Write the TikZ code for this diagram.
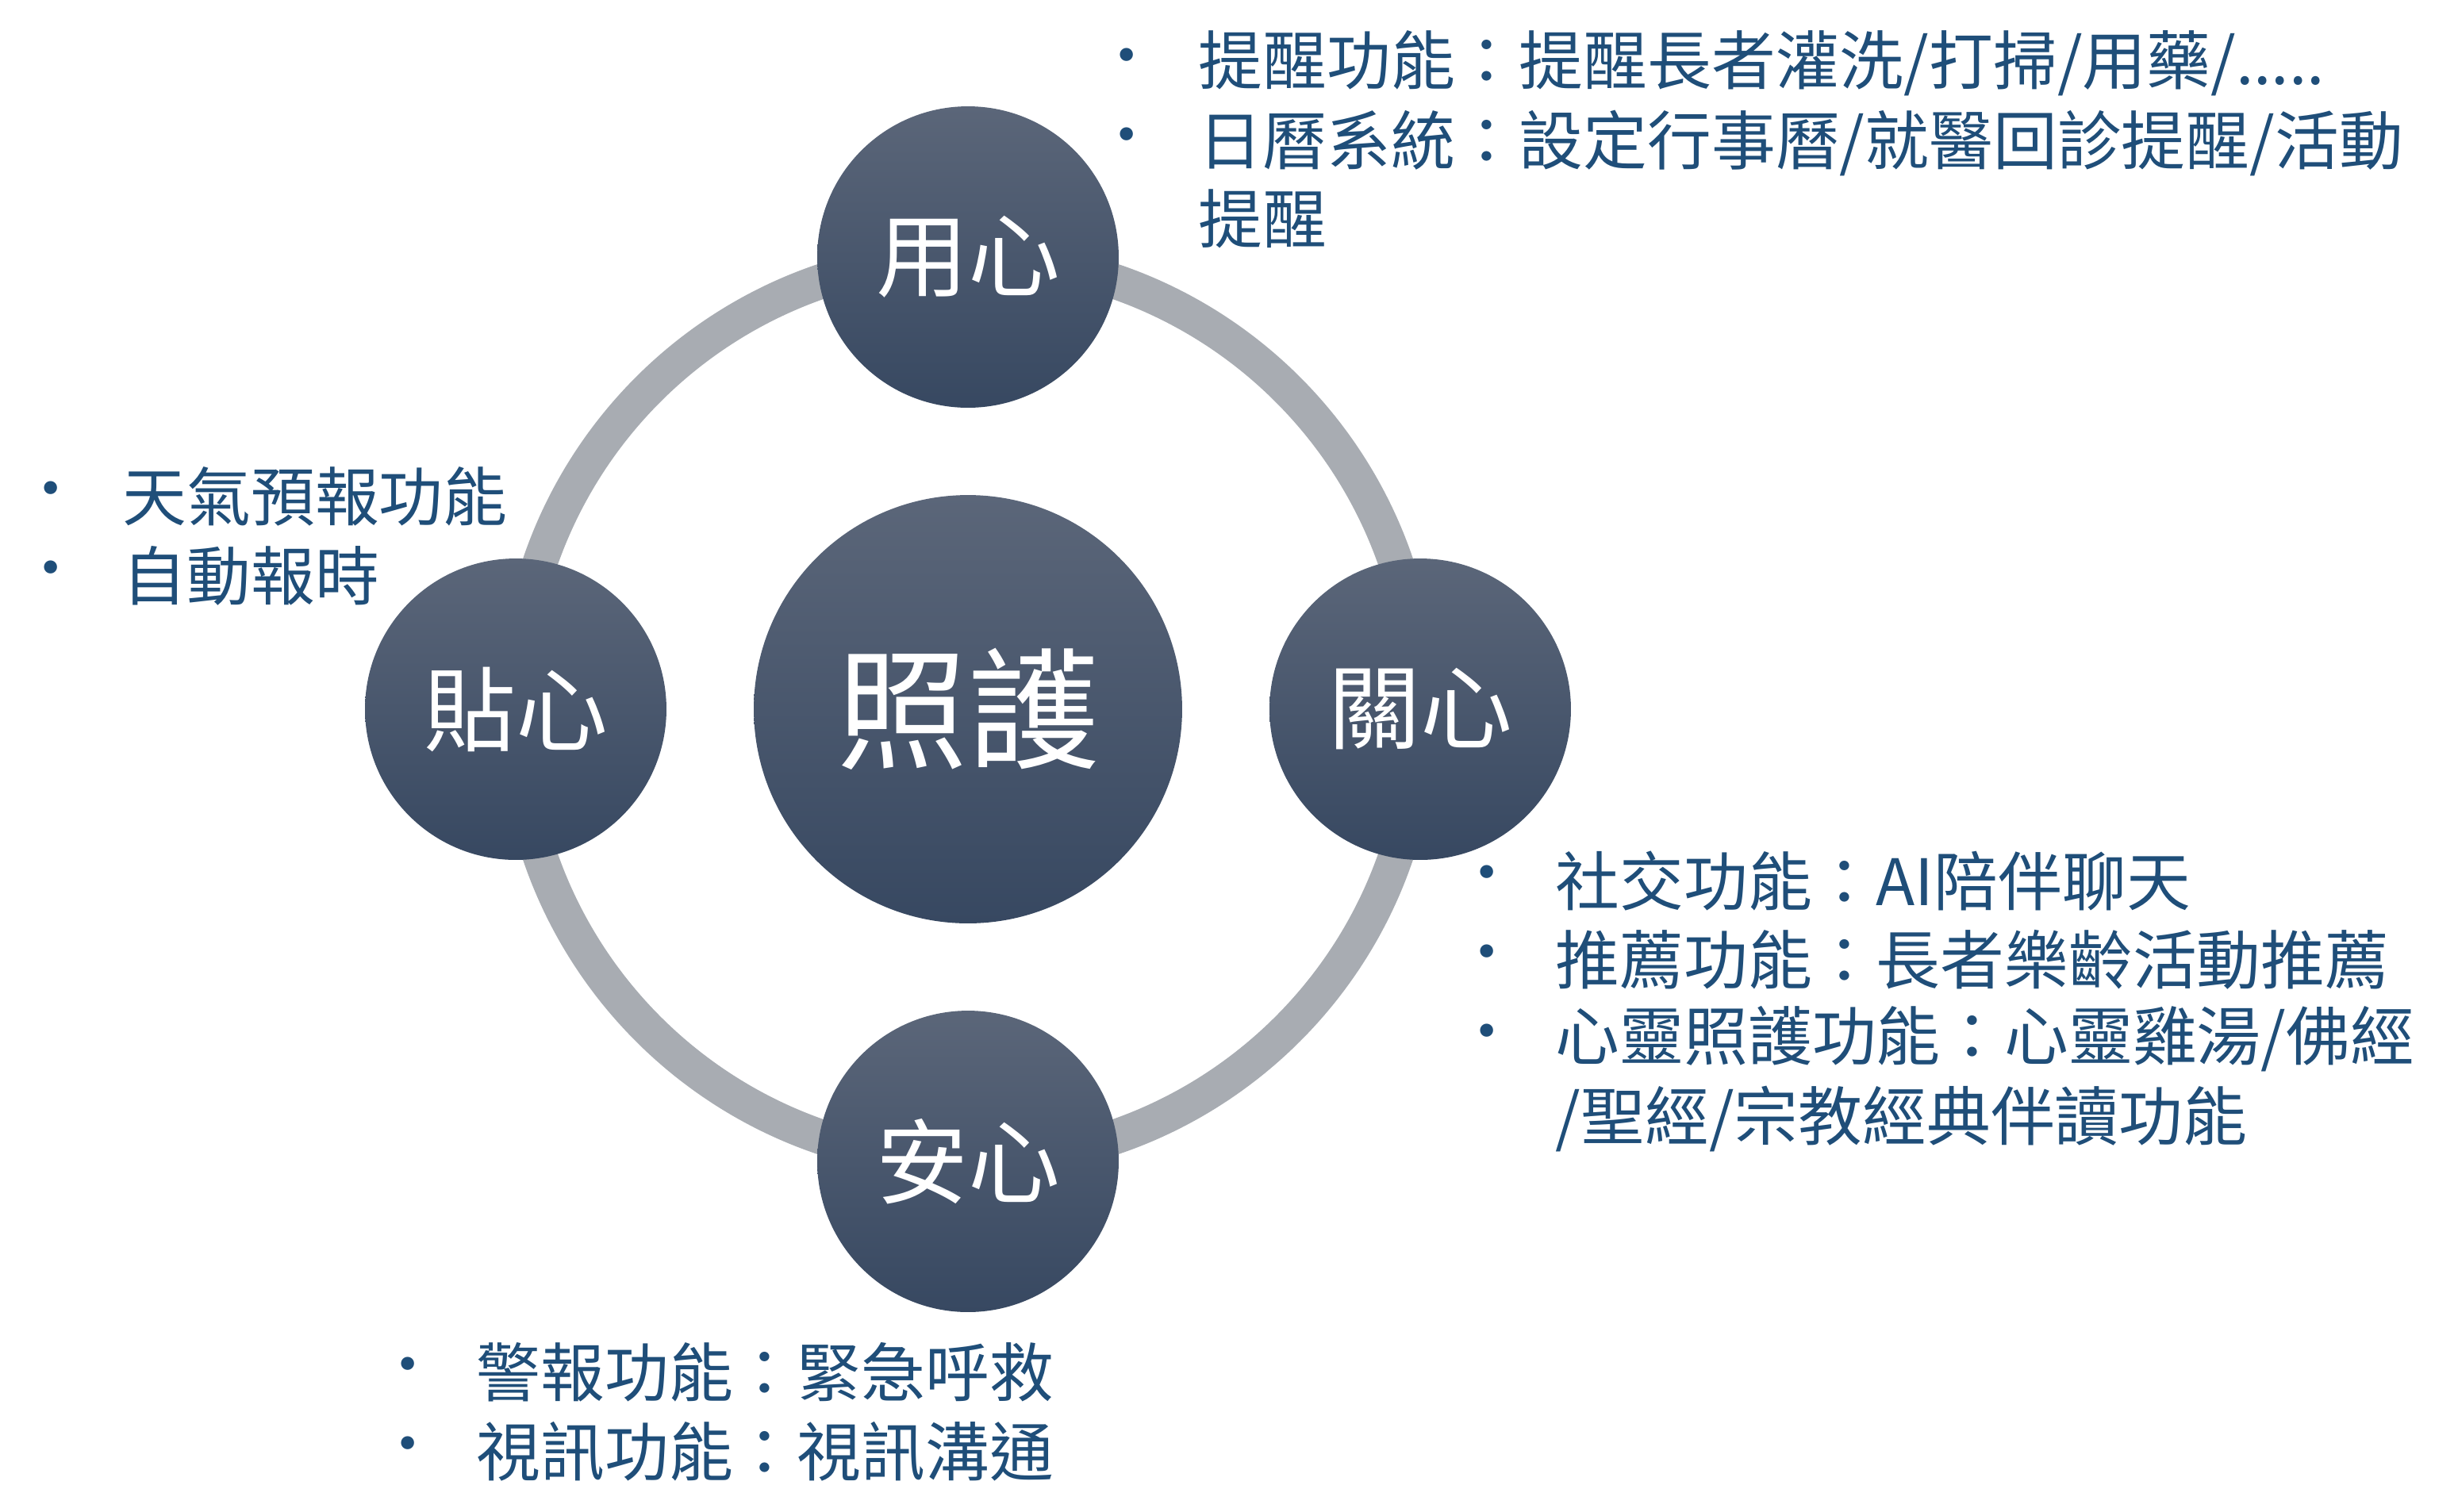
\documentclass[tikz,border=0pt]{standalone}
\usepackage{fontspec}
\setmainfont{Noto Sans CJK TC}
\definecolor{txt}{HTML}{1F4E79}
\definecolor{ctop}{HTML}{5B6679}
\definecolor{cbot}{HTML}{374861}
\definecolor{ring}{HTML}{A8ACB2}
\begin{document}
\begin{tikzpicture}[x=0.02cm,y=-0.02cm,
  big/.style={circle,minimum size=5.4cm,inner sep=0,top color=ctop,bottom color=cbot,text=white,font=\fontsize{47}{50}\selectfont},
  small/.style={circle,minimum size=3.8cm,inner sep=0,top color=ctop,bottom color=cbot,text=white,font=\fontsize{33}{36}\selectfont},
  bul/.style={anchor=center,text=txt,font=\fontsize{22}{24}\selectfont,inner sep=0},
  item/.style={anchor=west,text=txt,font=\fontsize{23}{25}\selectfont,inner sep=0}]
\useasboundingbox (0,0) rectangle (1549,952.5);
\coordinate (c) at (610,447);
\draw[ring,line width=0.44cm] (c) circle[radius=285];
\node[big] (m) at (c) {照護};
\node[small] (t) at (610,162) {用心};
\node[small] (r) at (895,447) {關心};
\node[small] (b) at (610,732) {安心};
\node[small] (l) at (325,447) {貼心};
% top
\node[bul] (tb1) at (710,40) {•};
\node[item] (t1) at (755,40) {提醒功能：提醒長者灌洗/打掃/用藥/.....};
\node[bul] (tb2) at (710,90) {•};
\node[item] (t2) at (755,90) {日曆系統：設定行事曆/就醫回診提醒/活動};
\node[item] (t3) at (755,138) {提醒};
% left
\node[bul] (lb1) at (32,313) {•};
\node[item] (l1) at (77,313) {天氣預報功能};
\node[bul] (lb2) at (32,363) {•};
\node[item] (l2) at (77,363) {自動報時};
% right
\node[bul] (rb1) at (937,555) {•};
\node[item] (r1) at (980,555) {社交功能：AI陪伴聊天};
\node[bul] (rb2) at (937,605) {•};
\node[item] (r2) at (980,605) {推薦功能：長者樂齡活動推薦};
\node[bul] (rb3) at (937,655) {•};
\node[item] (r3) at (980,655) {心靈照護功能：心靈雞湯/佛經};
\node[item] (r4) at (980,705) {/聖經/宗教經典伴讀功能};
% bottom
\node[bul] (bb1) at (257,865) {•};
\node[item] (b1) at (300,865) {警報功能：緊急呼救};
\node[bul] (bb2) at (257,915) {•};
\node[item] (b2) at (300,915) {視訊功能：視訊溝通};
\end{tikzpicture}
\end{document}
